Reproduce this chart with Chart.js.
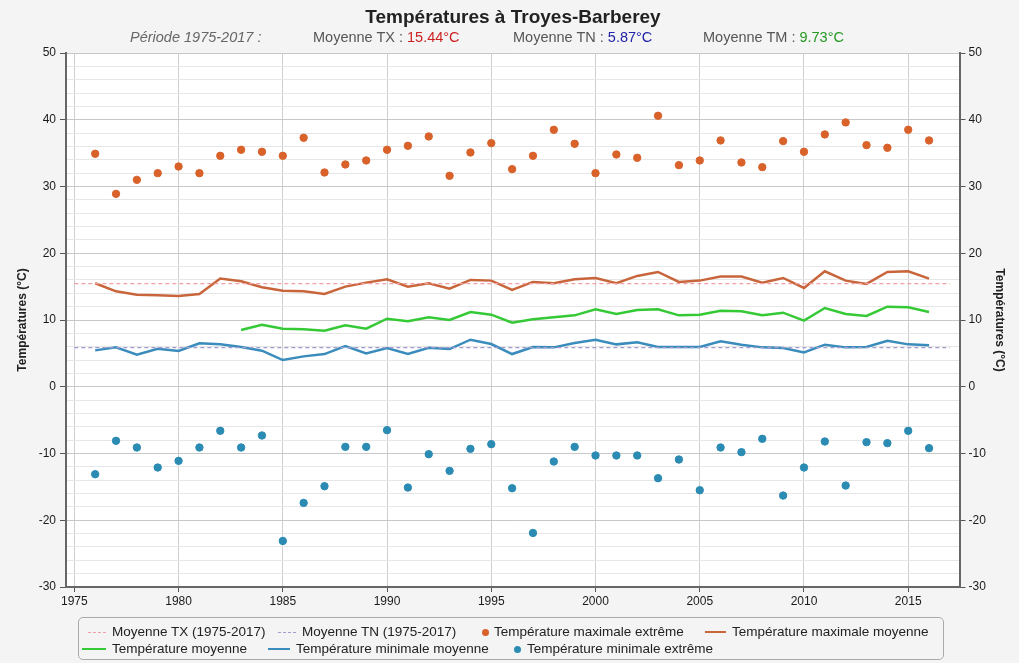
<!DOCTYPE html>
<html>
<head>
<meta charset="utf-8">
<script src="https://cdn.jsdelivr.net/npm/chart.js@4/dist/chart.umd.min.js"></script>
<style>
  body { margin: 0; background: #f4f4f4; font-family: "Liberation Sans", Arial, sans-serif; }
  #wrap { position: relative; width: 1019px; height: 663px; overflow: hidden; }
  #chart { position: absolute; left: 0; top: 0; }
  #title { position: absolute; left: 0; width: 1026px; top: 6px; text-align: center; font-size: 19px; font-weight: bold; color: #222; }
  .sub { position: absolute; top: 29px; font-size: 14.5px; color: #555; white-space: nowrap; }
  #legend { position: absolute; left: 78px; top: 617px; width: 866px; height: 43px; border: 1px solid #aaa; border-radius: 5px; box-sizing: border-box; }
  .sym { position: absolute; }
  .txt { position: absolute; font-size: 13.5px; color: #222; white-space: nowrap; line-height: 16px; }
</style>
</head>
<body>
<div id="wrap">
  <canvas id="chart" width="1019" height="663"></canvas>
  <div id="title">Températures à Troyes-Barberey</div>
  <div class="sub" style="left:130px;font-style:italic;color:#666">Période 1975-2017 :</div>
  <div class="sub" style="left:313px">Moyenne TX : <span style="color:#cc1f1f">15.44°C</span></div>
  <div class="sub" style="left:513px">Moyenne TN : <span style="color:#2323a8">5.87°C</span></div>
  <div class="sub" style="left:703px">Moyenne TM : <span style="color:#229922">9.73°C</span></div>
  <div id="legend"></div>
</div>
<script>
// Années et valeurs (°C)
const years = [1976, 1977, 1978, 1979, 1980, 1981, 1982, 1983, 1984, 1985, 1986, 1987, 1988, 1989, 1990,
  1991, 1992, 1993, 1994, 1995, 1996, 1997, 1998, 1999, 2000, 2001, 2002, 2003, 2004, 2005,
  2006, 2007, 2008, 2009, 2010, 2011, 2012, 2013, 2014, 2015, 2016];

const txExtreme = [34.9, 28.9, 31.0, 32.0, 33.0, 32.0, 34.6, 35.5, 35.2, 34.6, 37.3, 32.1, 33.3, 33.9, 35.5,
  36.1, 37.5, 31.6, 35.1, 36.5, 32.6, 34.6, 38.5, 36.4, 32.0, 34.8, 34.3, 40.6, 33.2, 33.9,
  36.9, 33.6, 32.9, 36.8, 35.2, 37.8, 39.6, 36.2, 35.8, 38.5, 36.9];

const txMean = [15.5, 14.3, 13.8, 13.7, 13.6, 13.9, 16.2, 15.8, 14.9, 14.4, 14.3, 13.9, 15.0, 15.6, 16.1,
  15.0, 15.5, 14.7, 16.0, 15.9, 14.5, 15.7, 15.5, 16.1, 16.3, 15.5, 16.6, 17.2, 15.7, 15.9,
  16.5, 16.5, 15.6, 16.3, 14.8, 17.3, 15.9, 15.4, 17.2, 17.3, 16.2];

const tmMean = [null, null, null, null, null, null, null, 8.5, 9.3, 8.7, 8.6, 8.4, 9.2, 8.7, 10.2,
  9.8, 10.4, 10.0, 11.2, 10.8, 9.6, 10.1, 10.4, 10.7, 11.6, 10.9, 11.5, 11.6, 10.7, 10.8,
  11.4, 11.3, 10.7, 11.1, 9.9, 11.8, 10.9, 10.6, 12.0, 11.9, 11.2];

const tnMean = [5.45, 5.9, 4.8, 5.7, 5.35, 6.5, 6.35, 5.95, 5.4, 4.0, 4.55, 4.9, 6.1, 5.0, 5.8,
  4.9, 5.85, 5.65, 7.05, 6.4, 4.9, 5.95, 5.9, 6.55, 7.05, 6.35, 6.65, 5.95, 5.95, 5.95,
  6.8, 6.3, 5.9, 5.8, 5.15, 6.3, 5.9, 5.95, 6.9, 6.35, 6.2];

const tnExtreme = [-13.1, -8.1, -9.1, -12.1, -11.1, -9.1, -6.6, -9.1, -7.3, -23.1, -17.4, -14.9, -9.0, -9.0, -6.5,
  -15.1, -10.1, -12.6, -9.3, -8.6, -15.2, -21.9, -11.2, -9.0, -10.3, -10.3, -10.3, -13.7, -10.9, -15.5,
  -9.1, -9.8, -7.8, -16.3, -12.1, -8.2, -14.8, -8.3, -8.45, -6.6, -9.2];

const periodYears = [1975, 2017];
const avgTX = 15.44;
const avgTN = 5.87;
const xTicks = [1975, 1980, 1985, 1990, 1995, 2000, 2005, 2010, 2015];

const pts = arr => years.map((y, i) => ({ x: y, y: arr[i] }));

// fond blanc de la zone de tracé
const plotBg = {
  id: 'plotBg',
  beforeDraw(chart) {
    const a = chart.chartArea;
    chart.ctx.save();
    chart.ctx.fillStyle = '#ffffff';
    chart.ctx.fillRect(a.left, a.top, a.right - a.left, a.bottom - a.top);
    chart.ctx.restore();
  }
};

const datasets = [
  { label: 'Moyenne TX (1975-2017)', data: periodYears.map(y => ({ x: y, y: avgTX })),
    borderColor: '#f0a0a6', borderWidth: 1.2, borderDash: [4, 3], pointRadius: 0, showLine: true, kind: 'dash' },
  { label: 'Moyenne TN (1975-2017)', data: periodYears.map(y => ({ x: y, y: avgTN })),
    borderColor: '#a29dcf', borderWidth: 1.2, borderDash: [4, 3], pointRadius: 0, showLine: true, kind: 'dash' },
  { label: 'Température maximale extrême', data: pts(txExtreme), showLine: false,
    pointRadius: 3.7, pointBackgroundColor: '#d9622b', pointBorderColor: '#d9622b', kind: 'dot' },
  { label: 'Température maximale moyenne', data: pts(txMean), showLine: true,
    borderColor: '#c9653b', borderWidth: 2.5, pointRadius: 0, kind: 'line' },
  { label: 'Température moyenne', data: pts(tmMean), showLine: true,
    borderColor: '#35c935', borderWidth: 2.5, pointRadius: 0, kind: 'line' },
  { label: 'Température minimale moyenne', data: pts(tnMean), showLine: true,
    borderColor: '#3a8cbc', borderWidth: 2.5, pointRadius: 0, kind: 'line' },
  { label: 'Température minimale extrême', data: pts(tnExtreme), showLine: false,
    pointRadius: 3.7, pointBackgroundColor: '#2b8bb3', pointBorderColor: '#2b8bb3', kind: 'dot' }
];

const tickFont = { family: '"Liberation Sans", Arial, sans-serif', size: 12 };
const titleFont = { family: '"Liberation Sans", Arial, sans-serif', size: 12, weight: 'bold' };

const chart = new Chart(document.getElementById('chart'), {
  type: 'scatter',
  data: { datasets: datasets },
  plugins: [plotBg],
  options: {
    responsive: false,
    animation: false,
    layout: { padding: { top: 53, left: 0, right: 0, bottom: 0 } },
    plugins: { legend: { display: false }, tooltip: { enabled: false } },
    elements: { line: { tension: 0 } },
    scales: {
      x: {
        type: 'linear', min: 1974.6, max: 2017.46,
        afterBuildTicks: s => { s.ticks = xTicks.map(v => ({ value: v })); },
        afterFit: s => { s.height = 76; },
        ticks: { callback: v => String(v), color: '#1a1a1a', font: tickFont, padding: 2, maxRotation: 0 },
        grid: { color: '#cfcfcf', tickColor: '#555', tickLength: 5 },
        border: { color: '#666', width: 2 }
      },
      y: {
        position: 'left', min: -30, max: 50,
        afterFit: s => { s.width = 66; },
        ticks: { stepSize: 2, autoSkip: false, color: '#1a1a1a', font: tickFont, padding: 4,
          callback: v => (v % 10 === 0 ? String(v) : '') },
        grid: {
          color: c => (c.tick && c.tick.value % 10 === 0 ? '#c8c8c8' : '#e6e6e6'),
          tickColor: c => (c.tick && c.tick.value % 10 === 0 ? '#555' : 'rgba(0,0,0,0)'),
          tickLength: 6
        },
        border: { color: '#666', width: 2 },
        title: { display: true, text: 'Températures (°C)', color: '#222', font: titleFont, padding: { top: 15 } }
      },
      y2: {
        position: 'right', min: -30, max: 50,
        afterFit: s => { s.width = 59.5; },
        ticks: { stepSize: 10, color: '#1a1a1a', font: tickFont, padding: 3 },
        grid: { drawOnChartArea: false, tickColor: '#555', tickLength: 6 },
        border: { color: '#666', width: 2 },
        title: { display: true, text: 'Températures (°C)', color: '#222', font: titleFont, padding: { top: 12 } }
      }
    }
  }
});

// légende HTML construite à partir des jeux de données
// [début du symbole, début du texte, centre vertical] en pixels de page
const legendPos = [[88, 112, 632], [278, 302, 632], [485, 494, 632], [705, 732, 632],
  [82, 112, 649], [268, 296, 649], [517, 527, 649]];
const legend = document.getElementById('legend');
chart.data.datasets.forEach((ds, i) => {
  const [sx, tx, cy] = legendPos[i];
  const sym = document.createElement('span');
  sym.className = 'sym';
  if (ds.kind === 'dash') {
    sym.style.left = (sx - 79) + 'px';
    sym.style.top = (cy - 618) + 'px';
    sym.style.width = '18px';
    sym.style.borderTop = '1.5px dashed ' + ds.borderColor;
  } else if (ds.kind === 'line') {
    sym.style.left = (sx - 79) + 'px';
    sym.style.top = (cy - 619) + 'px';
    sym.style.width = (tx - sx - 6) + 'px';
    sym.style.borderTop = '2.5px solid ' + ds.borderColor;
  } else {
    sym.style.left = (sx - 79 - 3.5) + 'px';
    sym.style.top = (cy - 618 - 3.5) + 'px';
    sym.style.width = '7px';
    sym.style.height = '7px';
    sym.style.borderRadius = '50%';
    sym.style.background = ds.pointBackgroundColor;
  }
  const txt = document.createElement('span');
  txt.className = 'txt';
  txt.style.left = (tx - 79) + 'px';
  txt.style.top = (cy - 618 - 8) + 'px';
  txt.textContent = ds.label;
  legend.appendChild(sym);
  legend.appendChild(txt);
});
</script>
</body>
</html>
